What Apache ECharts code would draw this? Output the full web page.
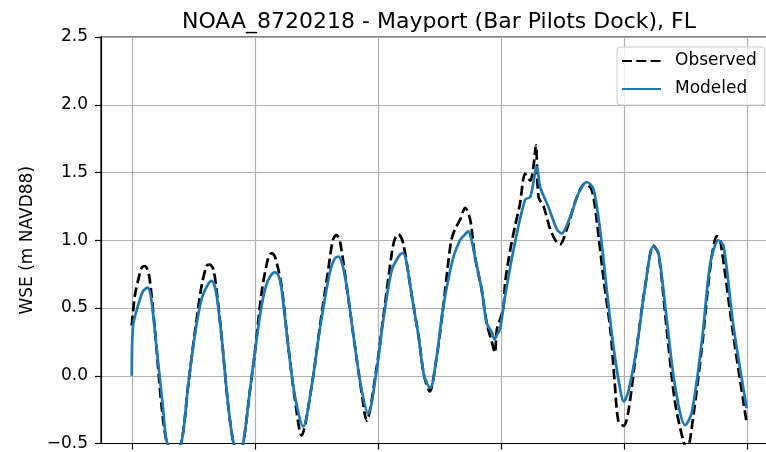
<!DOCTYPE html>
<html>
<head>
<meta charset="utf-8">
<script src="https://cdn.jsdelivr.net/npm/echarts@6/dist/echarts.min.js"></script>
<style>
  html, body { margin: 0; padding: 0; overflow: hidden; background: #fff; }
  #chart { width: 878px; height: 452px; }
</style>
</head>
<body>
<div id="chart"></div>
<script>
// Water surface elevation at NOAA station 8720218, hours since start of record
const obsHours = [0.0, 0.6, 1.6, 2.0, 2.5, 3.0, 3.5, 4.5, 5.8, 6.8, 8.2, 9.7, 11.0, 12.3, 13.6, 14.6, 15.2, 15.9, 16.5, 17.5,
  18.8, 19.8, 20.7, 21.7, 23.0, 24.0, 25.3, 26.6, 27.3, 28.0, 29.2, 30.5, 31.8, 33.1, 35.1, 36.7, 38.3, 39.2, 39.9, 40.6,
  41.9, 43.5, 44.8, 45.8, 47.7, 49.0, 50.7, 51.3, 52.0, 52.9, 54.6, 55.9, 57.0, 58.1, 59.3, 60.7, 61.6,
  62.3, 63.0, 64.0, 65.0, 66.0, 66.9, 68.2, 69.2, 70.2, 70.8, 71.2, 72.4, 72.8, 73.8, 74.7, 75.7,
  76.7, 77.7, 78.3, 78.8, 79.3, 80.3, 81.6, 82.9, 83.5, 84.8, 86.8, 88.4, 89.7, 90.7, 92.0, 93.3,
  94.2, 94.9, 95.9, 96.8, 98.5, 100.1, 101.7, 102.7, 104.3, 105.9, 107.6, 108.3, 108.9, 111.2, 112.8,
  114.1, 114.7, 117.3, 119.9];
const obsLevels = [0.37, 0.59, 0.76, 0.80, 0.81, 0.79, 0.71, 0.345, -0.22, -0.49, -0.62, -0.49, -0.07, 0.32, 0.66, 0.81, 0.82, 0.785, 0.64, 0.295,
  -0.22, -0.49, -0.58, -0.50, -0.12, 0.17, 0.61, 0.87, 0.905, 0.87, 0.66, 0.22, -0.17, -0.44, -0.07, 0.37, 0.78, 1.00, 1.04, 0.99,
  0.66, 0.22, -0.12, -0.33, 0.05, 0.42, 0.905, 1.01, 1.045, 0.98, 0.59, 0.295, 0.0, -0.115, 0.10, 0.50, 0.80,
  1.00, 1.08, 1.15, 1.24, 1.15, 0.88, 0.64, 0.39, 0.25, 0.17, 0.345, 0.49, 0.69, 0.93, 1.10, 1.27,
  1.49, 1.44, 1.54, 1.70, 1.32, 1.25, 1.08, 0.98, 0.97, 1.08, 1.32, 1.42, 1.37, 1.13, 0.71, 0.345,
  -0.07, -0.34, -0.37, -0.27, 0.22, 0.66, 0.96, 0.90, 0.345, -0.19, -0.49, -0.54, -0.46, 0.22, 0.80,
  1.03, 1.01, 0.295, -0.35];

const modHours = [0.0, 0.25, 1.2, 2.2, 3.1, 3.8, 4.8, 6.1, 6.8, 8.2, 9.7, 11.0, 12.3, 13.6, 14.8, 15.55, 16.1, 16.6,
  17.5, 18.8, 19.8, 20.7, 21.7, 23.0, 24.0, 25.3, 26.5, 27.9, 28.6, 29.2, 30.5, 31.8, 33.4, 35.1, 36.7,
  38.6, 39.5, 40.25, 41.0, 41.9, 43.5, 44.8, 46.1, 47.7, 49.0, 50.7, 52.2, 52.9, 53.6, 54.6, 55.9, 57.0, 58.2, 59.3, 60.7,
  62.6, 64.0, 64.9, 65.6, 66.2, 66.9, 68.2, 69.2, 70.2, 70.7, 71.2, 71.8, 72.8, 74.7, 76.7, 77.7, 79.0, 79.6,
  81.2, 82.9, 83.8, 85.5, 87.1, 88.7, 90.0, 91.3, 92.6, 93.9, 95.2, 95.9, 96.8, 98.5, 100.1, 101.7,
  102.7, 104.3, 105.9, 107.9, 109.2, 111.2, 112.8, 114.4, 115.4, 117.3, 119.9];
const modLevels = [0.0, 0.37, 0.515, 0.625, 0.65, 0.565, 0.22, -0.24, -0.48, -0.60, -0.49, -0.07, 0.30, 0.565, 0.67, 0.70, 0.67, 0.58,
  0.29, -0.22, -0.49, -0.56, -0.50, -0.12, 0.17, 0.515, 0.70, 0.765, 0.74, 0.64, 0.22, -0.15, -0.375, -0.07, 0.35,
  0.76, 0.86, 0.88, 0.83, 0.66, 0.22, -0.10, -0.28, 0.03, 0.40, 0.78, 0.89, 0.905, 0.83, 0.59, 0.295, 0.0, -0.09, 0.10, 0.50,
  0.86, 1.00, 1.04, 1.065, 1.01, 0.88, 0.64, 0.39, 0.32, 0.27, 0.30, 0.345, 0.59, 0.98, 1.30, 1.32, 1.54, 1.395,
  1.25, 1.08, 1.05, 1.175, 1.345, 1.43, 1.38, 1.08, 0.64, 0.22, -0.095, -0.19, -0.12, 0.22, 0.66, 0.955,
  0.905, 0.42, -0.07, -0.365, -0.27, 0.27, 0.83, 1.00, 0.955, 0.37, -0.24];

const dayTicks = [0, 24, 48, 72, 96, 120];

const zip = (xs, ys) => xs.map((x, i) => [x, ys[i]]);

const FONT = 'DejaVu Sans';
const chart = echarts.init(document.getElementById('chart'), null, { renderer: 'canvas' });

chart.setOption({
  animation: false,
  backgroundColor: '#ffffff',
  title: {
    text: 'NOAA_8720218 - Mayport (Bar Pilots Dock), FL',
    left: 'center',
    top: 6,
    textStyle: { fontFamily: FONT, fontSize: 22, fontWeight: 'normal', color: '#000' }
  },
  legend: {
    orient: 'vertical',
    left: 617,
    top: 47,
    padding: [4, 8, 6, 4],
    itemGap: 8,
    itemWidth: 39,
    itemHeight: 14,
    backgroundColor: 'rgba(255,255,255,0.8)',
    borderColor: '#cccccc',
    borderWidth: 1,
    borderRadius: 3,
    itemStyle: { opacity: 0 },
    textStyle: { fontFamily: FONT, fontSize: 17, color: '#000', lineHeight: 20, padding: [0, 0, 0, 9] },
    data: ['Observed', 'Modeled']
  },
  grid: {
    left: 101,
    top: 37,
    right: 100,
    bottom: 6,
    show: true,
    borderColor: '#000',
    borderWidth: 1.2,
    containLabel: false
  },
  xAxis: {
    type: 'value',
    min: -6,
    max: 126,
    axisLine: { show: true, onZero: false, lineStyle: { color: '#000', width: 1.2 } },
    axisTick: { show: true, length: 6, customValues: dayTicks, lineStyle: { color: '#000', width: 1.2 } },
    axisLabel: { show: false, customValues: dayTicks },
    splitLine: { show: true, lineStyle: { color: '#b0b0b0', width: 1.2 } }
  },
  yAxis: {
    type: 'value',
    min: -0.5,
    max: 2.5,
    interval: 0.5,
    name: 'WSE (m NAVD88)',
    nameLocation: 'middle',
    nameGap: 64,
    nameTextStyle: { fontFamily: FONT, fontSize: 17, color: '#000' },
    axisLine: { show: true, onZero: false, lineStyle: { color: '#000', width: 1.2 } },
    axisTick: { show: true, length: 6, lineStyle: { color: '#000', width: 1.2 } },
    axisLabel: {
      fontFamily: FONT, fontSize: 17, color: '#000', margin: 13,
      formatter: v => (v < 0 ? '\u2212' + Math.abs(v).toFixed(1) : v.toFixed(1))
    },
    splitLine: { show: true, lineStyle: { color: '#b0b0b0', width: 1.2 } }
  },
  series: [
    {
      name: 'Observed',
      type: 'line',
      data: zip(obsHours, obsLevels),
      showSymbol: false,
      symbol: 'none',
      smooth: 0.3,
      clip: true,
      lineStyle: { color: '#000', width: 2.7, type: [10, 4.3] },
      itemStyle: { color: '#000' },
      z: 2
    },
    {
      name: 'Modeled',
      type: 'line',
      data: zip(modHours, modLevels),
      showSymbol: false,
      symbol: 'none',
      smooth: 0.3,
      clip: true,
      lineStyle: { color: '#1f77b4', width: 2.7 },
      itemStyle: { color: '#1f77b4' },
      z: 3
    }
  ]
});
</script>
</body>
</html>
